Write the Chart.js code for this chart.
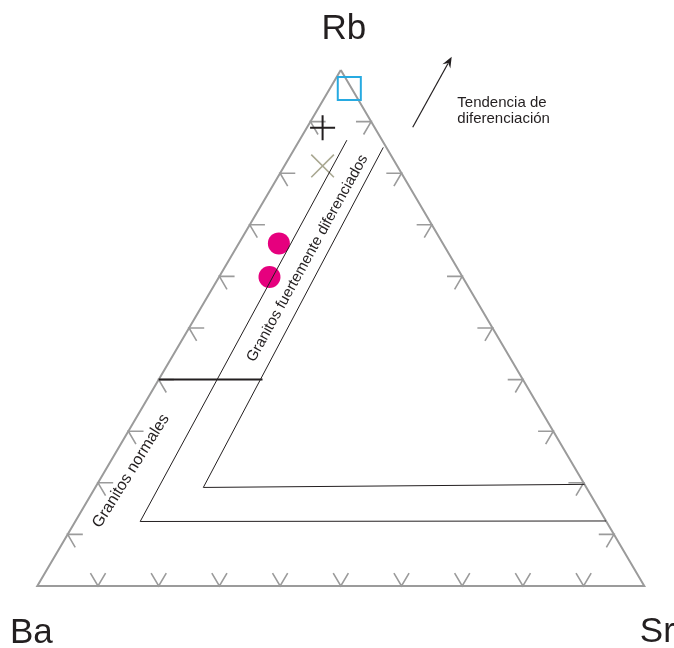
<!DOCTYPE html>
<html>
<head>
<meta charset="utf-8">
<script src="https://cdn.jsdelivr.net/npm/chart.js@4.4.0/dist/chart.umd.min.js"></script>
<style>
  html, body { margin:0; padding:0; background:#fff; }
  #wrap { width:674px; height:648px; }
</style>
</head>
<body>
<div id="wrap"><canvas id="ternary" width="674" height="648"></canvas></div>
<script>
/* Diagrama ternario Rb - Ba - Sr
   - composiciones en % con el orden [Rb, Ba, Sr]
   - se pasan a x/y del plano y Chart.js las dibuja con sus escalas
*/

const vertexNames = ['Rb', 'Ba', 'Sr'];
const tickSteps = [10, 20, 30, 40, 50, 60, 70, 80, 90];
const tickArm = 2.5; // largo de cada brazo del chevron (en %)

// limites de campos
const fieldNormales = [[86.4, 5.8, 7.8], [12.5, 76.8, 10.7], [12.6, 0, 87.4]];
const fieldDiferenciados = [[85.0, 0.5, 14.5], [19.1, 63.1, 17.8], [19.7, 0, 80.3]];
const splitLine = [[40, 60, 0], [40, 42.9, 17.1]];

// muestras
const sampleSquare = [[96.4, 0.4, 3.2]];
const samplePlus = [[88.8, 8.6, 2.6]];
const sampleCross = [[81.4, 12.3, 6.3]];
const sampleCircles = [[66.4, 27.0, 6.6], [59.9, 31.8, 8.3]];

// textos
const fieldLabels = ['Granitos normales', 'Granitos fuertemente diferenciados'];
const trendLabel = ['Tendencia de', 'diferenciación'];

/* ---------- helpers ---------- */
const GRAY = '#9b9b9b';
const INK = '#231f20';
const FONT = '"Liberation Sans", Arial, sans-serif';

function toXY(c) {
  const [rb, ba, sr] = c;
  const t = rb + ba + sr;
  return { x: (sr + rb / 2) / t, y: rb / t };
}

// chevron con la punta sobre el borde (componente k = 0), brazos paralelos a los otros lados
function chevron(tip, k) {
  const [i, j] = [0, 1, 2].filter(n => n !== k);
  const a1 = tip.slice(); a1[k] += tickArm; a1[i] -= tickArm;
  const a2 = tip.slice(); a2[k] += tickArm; a2[j] -= tickArm;
  return [a1, tip, a2].map(toXY);
}

const lineDs = (data, color, width, order) => ({
  type: 'scatter', data, showLine: true, borderColor: color, borderWidth: width,
  pointRadius: 0, fill: false, tension: 0, order
});

const tickDatasets = [];
tickSteps.forEach(s => {
  tickDatasets.push(lineDs(chevron([0, 100 - s, s], 0), GRAY, 1.6, 3)); // base Ba-Sr
  tickDatasets.push(lineDs(chevron([s, 100 - s, 0], 2), GRAY, 1.6, 3)); // lado Ba-Rb
  tickDatasets.push(lineDs(chevron([s, 0, 100 - s], 1), GRAY, 1.6, 3)); // lado Rb-Sr
});

const triangle = [[100, 0, 0], [0, 100, 0], [0, 0, 100], [100, 0, 0]];

/* ---------- plugin: textos y flecha ---------- */
const annotations = {
  id: 'annotations',
  afterDatasetsDraw(chart) {
    const { ctx, scales: { x, y } } = chart;
    const px = (vx, vy) => [x.getPixelForValue(vx), y.getPixelForValue(vy)];
    ctx.save();
    ctx.fillStyle = INK;
    ctx.strokeStyle = INK;

    // vertices
    const verts = [[100, 0, 0], [0, 100, 0], [0, 0, 100]].map(toXY);
    const offs = [[3, -31], [-6, 57], [13, 56]];
    ctx.font = '35px ' + FONT;
    ctx.textAlign = 'center';
    ctx.textBaseline = 'alphabetic';
    verts.forEach((v, n) => {
      const [vx, vy] = px(v.x, v.y);
      ctx.fillText(vertexNames[n], vx + offs[n][0], vy + offs[n][1]);
    });

    // etiquetas de campos (rotadas)
    const rot = [
      { at: [0.1544, 0.2229], ang: -58, size: 16 },
      { at: [0.4451, 0.6351], ang: -61, size: 15 }
    ];
    ctx.textBaseline = 'middle';
    fieldLabels.forEach((t, n) => {
      const [cx, cy] = px(rot[n].at[0], rot[n].at[1]);
      ctx.save();
      ctx.translate(cx, cy);
      ctx.rotate(rot[n].ang * Math.PI / 180);
      ctx.font = rot[n].size + 'px ' + FONT;
      ctx.fillText(t, 0, 0);
      ctx.restore();
    });

    // flecha de tendencia
    const [x0, y0] = px(0.6185, 0.889);
    const [x1, y1] = px(0.6827, 1.0258);
    const ang = Math.atan2(y1 - y0, x1 - x0);
    const head = 11, hw = 4.5;
    ctx.lineWidth = 1.2;
    ctx.beginPath();
    ctx.moveTo(x0, y0);
    ctx.lineTo(x1 - Math.cos(ang) * head * 0.7, y1 - Math.sin(ang) * head * 0.7);
    ctx.stroke();
    ctx.beginPath();
    ctx.moveTo(x1, y1);
    ctx.lineTo(x1 - Math.cos(ang) * head - Math.sin(ang) * hw, y1 - Math.sin(ang) * head + Math.cos(ang) * hw);
    ctx.lineTo(x1 - Math.cos(ang) * head * 0.65, y1 - Math.sin(ang) * head * 0.65);
    ctx.lineTo(x1 - Math.cos(ang) * head + Math.sin(ang) * hw, y1 - Math.sin(ang) * head - Math.cos(ang) * hw);
    ctx.closePath();
    ctx.fill();

    // texto de tendencia
    ctx.font = '15px ' + FONT;
    ctx.textAlign = 'left';
    ctx.textBaseline = 'alphabetic';
    const [tx, ty1] = px(0.692, 0.929);
    const [, ty2] = px(0.692, 0.898);
    ctx.fillText(trendLabel[0], tx, ty1);
    ctx.fillText(trendLabel[1], tx, ty2);
    ctx.restore();
  }
};

/* ---------- chart ---------- */
window.addEventListener('DOMContentLoaded', () => {
  const ctx = document.getElementById('ternary').getContext('2d');
  new Chart(ctx, {
    type: 'scatter',
    data: {
      datasets: [
        lineDs(triangle.map(toXY), GRAY, 2, 3),
        ...tickDatasets,
        lineDs(fieldNormales.map(toXY), INK, 1, 1),
        lineDs(fieldDiferenciados.map(toXY), INK, 1, 1),
        lineDs(splitLine.map(toXY), INK, 2, 1),
        { data: sampleCircles.map(toXY), pointStyle: 'circle', pointRadius: 11, backgroundColor: '#e6007e', borderWidth: 0, order: 2 },
        { data: sampleCross.map(toXY), pointStyle: 'crossRot', pointRadius: 16, borderColor: '#a9a892', borderWidth: 1.6, order: 1 },
        { data: samplePlus.map(toXY), pointStyle: 'cross', pointRadius: 12.5, borderColor: INK, borderWidth: 2, order: 1 },
        { data: sampleSquare.map(toXY), pointStyle: 'rect', pointRadius: 16.3, borderColor: '#27aae1', backgroundColor: 'rgba(0,0,0,0)', borderWidth: 2, order: 1 }
      ]
    },
    options: {
      responsive: false,
      animation: false,
      devicePixelRatio: 1,
      layout: { padding: 0, autoPadding: false },
      plugins: { legend: { display: false }, tooltip: { enabled: false } },
      scales: {
        x: { type: 'linear', display: false, min: -0.06145, max: 1.04893 },
        y: { type: 'linear', display: false, min: -0.12016, max: 1.13566 }
      }
    },
    plugins: [annotations]
  });
});
</script>
</body>
</html>
